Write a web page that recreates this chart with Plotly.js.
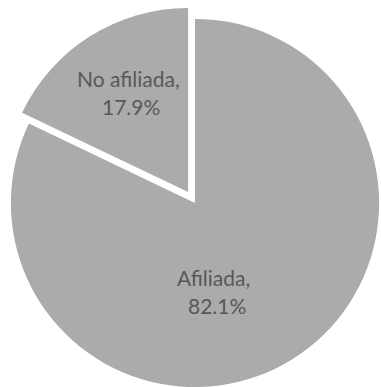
<!DOCTYPE html>
<html>
<head>
<meta charset="utf-8">
<script src="https://cdn.plot.ly/plotly-3.0.1.min.js"></script>
<style>
html,body{margin:0;padding:0;background:#fff;overflow:hidden;width:381px;height:387px;}
#chart{position:absolute;left:-2px;top:6px;width:394px;height:394px;}
</style>
</head>
<body>
<div id="chart"></div>
<script>
const categories = ["Afiliada", "No afiliada"];
const values = [82.1, 17.9];
const pulls = [0, 0.07];
// label line positions (paper coords): [name line, value line]
const namePos = [[0.546, 0.310], [0.330, 0.817]];
const valuePos = [[0.556, 0.241], [0.338, 0.744]];

const trace = {
  type: "pie",
  labels: categories,
  values: values,
  sort: false,
  direction: "clockwise",
  rotation: 0,
  pull: pulls,
  textinfo: "none",
  hoverinfo: "label+percent",
  marker: {colors: ["#ababab", "#ababab"], line: {color: "#ffffff", width: 0}},
  domain: {x: [0, 1], y: [0, 1]},
  showlegend: false
};

const font = {family: "Lato, 'Open Sans', sans-serif", size: 21, color: "#585858"};
const annotations = [];
categories.forEach((c, i) => {
  annotations.push({xref: "paper", yref: "paper", x: namePos[i][0], y: namePos[i][1],
    xanchor: "center", yanchor: "middle", showarrow: false, text: c + ",", font: font});
  annotations.push({xref: "paper", yref: "paper", x: valuePos[i][0], y: valuePos[i][1],
    xanchor: "center", yanchor: "middle", showarrow: false, text: values[i].toFixed(1) + "%", font: font});
});

Plotly.newPlot("chart", [trace], {
  width: 394, height: 394,
  margin: {l: 0, r: 0, t: 0, b: 0},
  paper_bgcolor: "#ffffff",
  showlegend: false,
  annotations: annotations
}, {displayModeBar: false, staticPlot: true});
</script>
</body>
</html>
